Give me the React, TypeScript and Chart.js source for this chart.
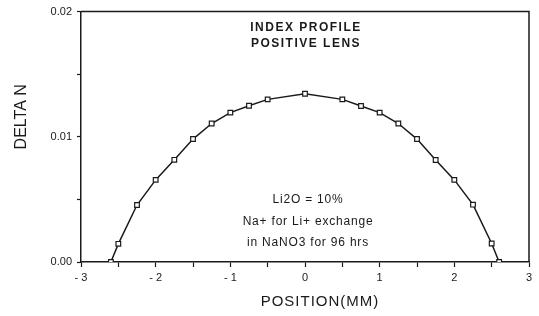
import React, { useEffect, useRef } from "react";
import { Chart, registerables } from "chart.js";

Chart.register(...registerables);

// ---- data ----
const positionMM = [-2.6, -2.5, -2.25, -2, -1.75, -1.5, -1.25, -1, -0.75, -0.5, 0, 0.5, 0.75, 1, 1.25, 1.5, 1.75, 2, 2.25, 2.5, 2.6];
const deltaN = [0, 0.00145, 0.00455, 0.00656, 0.00816, 0.00982, 0.01106, 0.01193, 0.01248, 0.01299, 0.01344, 0.01299, 0.01246, 0.01193, 0.01106, 0.00982, 0.00815, 0.00656, 0.00458, 0.00148, 0];

const titleLines = ["INDEX PROFILE", "POSITIVE LENS"];
const noteLines = ["Li2O = 10%", "Na+ for Li+ exchange", "in NaNO3 for 96 hrs"];
const xAxisTitle = "POSITION(MM)";
const yAxisTitle = "DELTA N";

const INK = "#1a1a1a";
const FONT = "'Liberation Sans', Arial, sans-serif";

const annotatePlugin = {
  id: "annotate",
  afterDraw(chart: any) {
    const { ctx, chartArea } = chart;
    const { left, right, top, bottom } = chartArea;
    ctx.save();
    // frame (top and right)
    ctx.strokeStyle = INK;
    ctx.lineWidth = 1.5;
    ctx.beginPath();
    ctx.moveTo(left, top);
    ctx.lineTo(right, top);
    ctx.lineTo(right, bottom);
    ctx.stroke();

    ctx.fillStyle = INK;
    ctx.textAlign = "center";
    ctx.textBaseline = "middle";
    const cx = (left + right) / 2;

    // inner title
    ctx.font = `bold 12px ${FONT}`;
    (ctx as any).letterSpacing = "1.5px";
    titleLines.forEach((t, i) => ctx.fillText(t, cx + 1, top + 16 + i * 16));

    // notes
    ctx.font = `12px ${FONT}`;
    (ctx as any).letterSpacing = "0.8px";
    noteLines.forEach((t, i) => ctx.fillText(t, cx + 3, bottom - 62 + i * 21.5));

    // x axis title
    ctx.font = `15px ${FONT}`;
    (ctx as any).letterSpacing = "1px";
    ctx.fillText(xAxisTitle, cx + 15, 302);

    // y axis title
    ctx.translate(22, (top + bottom) / 2 - 20);
    ctx.rotate(-Math.PI / 2);
    ctx.font = `16px ${FONT}`;
    (ctx as any).letterSpacing = "0px";
    ctx.fillText(yAxisTitle, 0, 0);
    ctx.restore();
  },
};

export default function App() {
  const canvasRef = useRef<HTMLCanvasElement | null>(null);

  useEffect(() => {
    const canvas = canvasRef.current;
    if (!canvas) return;
    const chart = new Chart(canvas, {
      type: "scatter",
      data: {
        datasets: [
          {
            data: positionMM.map((x, i) => ({ x, y: deltaN[i] })),
            showLine: true,
            borderColor: INK,
            borderWidth: 1.5,
            pointStyle: "rect",
            pointRadius: 3.3,
            pointBackgroundColor: "#ffffff",
            pointBorderColor: INK,
            pointBorderWidth: 1.2,
            tension: 0,
          },
        ],
      },
      options: {
        responsive: false,
        animation: false,
        devicePixelRatio: 1,
        layout: { padding: { top: 9, right: 10, left: 0, bottom: 0 } },
        plugins: {
          legend: { display: false },
          tooltip: { enabled: false },
        },
        scales: {
          x: {
            type: "linear",
            min: -3,
            max: 3,
            afterFit: (scale: any) => {
              scale.height = 54;
            },
            ticks: {
              stepSize: 0.5,
              autoSkip: false,
              maxRotation: 0,
              padding: 4,
              color: INK,
              font: { family: FONT, size: 11 },
              callback: (v: any) => {
                const n = Number(v);
                if (Math.abs(n - Math.round(n)) > 1e-6) return "";
                const r = Math.round(n);
                return r < 0 ? "- " + Math.abs(r) : String(r);
              },
            },
            grid: {
              drawOnChartArea: false,
              drawTicks: true,
              tickLength: 5,
              tickColor: INK,
              tickWidth: 1.2,
            },
            border: { display: true, color: INK, width: 1.5 },
          },
          y: {
            type: "linear",
            min: 0,
            max: 0.02,
            afterFit: (scale: any) => {
              scale.width = 81;
            },
            ticks: {
              stepSize: 0.005,
              autoSkip: false,
              padding: 5,
              color: INK,
              font: { family: FONT, size: 11 },
              callback: (v: any) => {
                const n = Number(v) * 100;
                if (Math.abs(n - Math.round(n)) > 1e-6) return "";
                return (Math.round(n) / 100).toFixed(2);
              },
            },
            grid: {
              drawOnChartArea: false,
              drawTicks: true,
              tickLength: 4,
              tickColor: INK,
              tickWidth: 1.2,
            },
            border: { display: true, color: INK, width: 1.5 },
          },
        },
      },
      plugins: [annotatePlugin],
    } as any);
    return () => chart.destroy();
  }, []);

  return (
    <div style={{ position: "fixed", left: 0, top: 0, width: 539, height: 316, background: "#fff" }}>
      <canvas ref={canvasRef} width={539} height={316} style={{ width: 539, height: 316, display: "block" }} />
    </div>
  );
}
